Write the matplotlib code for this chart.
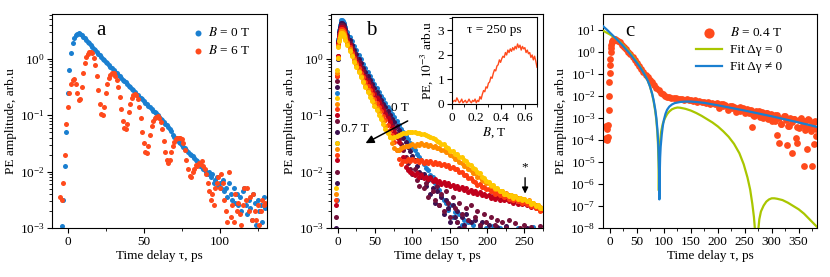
import numpy as np
import matplotlib
matplotlib.use('Agg')
import matplotlib.pyplot as plt
from matplotlib.ticker import MultipleLocator, LogLocator

plt.rcParams['font.family'] = ['Liberation Serif', 'DejaVu Serif']
plt.rcParams['mathtext.fontset'] = 'stix'
plt.rcParams['font.size'] = 9.5
plt.rcParams['axes.linewidth'] = 0.8

# ---------------- Panel a data (log10 of PE amplitude) ----------------
t_a = list(range(-5, 131))
a_B0_log = [
    -3.20, -2.96, -2.50, -1.90, -1.30, -0.60, -0.20, 0.10, 0.27, 0.37,
    0.42, 0.44, 0.45, 0.44, 0.42, 0.39, 0.36, 0.33, 0.30, 0.27,
    0.24, 0.21, 0.18, 0.15, 0.12, 0.09, 0.06, 0.03, 0.00, -0.03,
    -0.05, -0.08, -0.11, -0.14, -0.17, -0.20, -0.23, -0.26, -0.29, -0.31,
    -0.34, -0.37, -0.40, -0.42, -0.45, -0.48, -0.50, -0.53, -0.56, -0.59,
    -0.62, -0.64, -0.67, -0.70, -0.72, -0.75, -0.78, -0.81, -0.83, -0.86,
    -0.89, -0.92, -0.95, -0.97, -1.00, -1.03, -1.06, -1.09, -1.12, -1.15,
    -1.18, -1.21, -1.25, -1.28, -1.35, -1.38, -1.41, -1.44, -1.47, -1.50,
    -1.53, -1.56, -1.59, -1.62, -1.65, -1.68, -1.71, -1.73, -1.76, -1.79,
    -1.82, -1.85, -1.90, -1.92, -1.95, -1.98, -2.00, -2.05, -2.00, -2.10,
    -2.05, -2.20, -2.15, -2.10, -2.25, -2.20, -2.30, -2.15, -2.35, -2.30,
    -2.45, -2.20, -2.40, -2.50, -2.30, -2.55, -2.40, -2.60, -2.45, -2.70,
    -2.35, -2.30, -2.60, -2.75, -2.50, -2.65, -2.85, -2.40, -2.55, -2.95,
    -2.50, -2.70, -2.60, -2.90, -2.45, -2.65]
a_B6_log = [
    -2.45, -2.50, -2.20, -1.70, -1.15, -0.85, -0.60, -0.45, -0.37, -0.36,
    -0.45, -0.60, -0.74, -0.72, -0.50, -0.25, -0.08, 0.03, 0.09, 0.12,
    0.12, 0.10, 0.02, -0.12, -0.30, -0.55, -0.80, -0.98, -1.00, -0.85,
    -0.60, -0.45, -0.35, -0.29, -0.26, -0.26, -0.30, -0.38, -0.50, -0.68,
    -0.90, -1.10, -1.22, -1.25, -1.15, -0.95, -0.80, -0.70, -0.65, -0.63,
    -0.65, -0.72, -0.85, -1.05, -1.30, -1.50, -1.65, -1.67, -1.55, -1.35,
    -1.20, -1.10, -1.05, -1.03, -1.02, -1.05, -1.12, -1.25, -1.45, -1.65,
    -1.80, -1.85, -1.80, -1.65, -1.55, -1.47, -1.42, -1.40, -1.40, -1.40,
    -1.42, -1.50, -1.62, -1.80, -1.95, -2.08, -2.10, -2.00, -1.95, -1.88,
    -1.90, -1.85, -1.87, -1.82, -1.90, -1.95, -2.05, -2.20, -2.35, -2.50,
    -2.40, -2.60, -2.30, -2.20, -2.10, -2.30, -2.05, -2.20, -2.50, -2.70,
    -2.90, -2.00, -2.80, -2.60, -2.90, -2.40, -2.70, -2.55, -2.75, -2.95,
    -2.60, -2.30, -2.50, -2.30, -2.70, -2.45, -2.85, -2.40, -2.70, -2.85,
    -2.60, -2.95, -2.70, -2.50, -2.60, -2.55]
a_labels = ['$B$ = 0 T', '$B$ = 6 T']

# ---------------- Panel b data ----------------
t_b = [-2, -1.5, -1, -0.5, 0, 1, 2, 3, 4, 5, 6, 7, 8] + list(range(10, 275, 3))
b_fields = ['0 T', '0.1 T', '0.2 T', '0.3 T', '0.4 T', '0.5 T', '0.7 T']
b_colors = ['#1a7fd0', '#3d1150', '#74113a', '#c0001c', '#ff3d10', '#ff8c00', '#ffc800']
b_B00_log = [
    -3.2, -2.5, -1.5, -0.6, 0.0, 0.35, 0.5, 0.6, 0.65, 0.68, 0.68, 0.66, 0.63,
    0.57, 0.48, 0.39, 0.31, 0.23, 0.15, 0.07, -0.01, -0.09, -0.16,
    -0.24, -0.31, -0.38, -0.45, -0.52, -0.59, -0.66, -0.72, -0.78, -0.85,
    -0.91, -0.98, -1.04, -1.10, -1.17, -1.24, -1.30, -1.37, -1.43, -1.50,
    -1.56, -1.62, -1.68, -1.74, -1.80, -1.86, -1.93, -1.98, -2.06, -2.10,
    -2.20, -2.27, -2.33, -2.42, -2.50, -2.55, -2.68, -2.60, -2.80, -2.72,
    -2.90, -2.75, -2.95, -2.85, -3.10, -2.90, -3.20, -2.95, -3.10, -3.30,
    -2.95, -3.20, -3.40, -3.00, -3.30, -3.10, -2.97, -3.40, -3.20, -3.00,
    -3.50, -3.20, -2.98, -3.30, -3.50, -3.10, -3.40, -3.00, -3.60, -3.20,
    -3.40, -3.10, -3.50, -3.30, -2.99, -3.40, -3.20, -3.60, -3.30]
b_B01_log = [
    -3.0, -2.2, -1.3, -0.5, 0.0, 0.32, 0.47, 0.56, 0.61, 0.64, 0.64, 0.62, 0.59,
    0.52, 0.42, 0.33, 0.24, 0.16, 0.08, 0.00, -0.08, -0.16, -0.23,
    -0.31, -0.38, -0.45, -0.52, -0.59, -0.66, -0.73, -0.80, -0.86, -0.93,
    -0.99, -1.06, -1.13, -1.20, -1.27, -1.34, -1.41, -1.48, -1.56, -1.63,
    -1.72, -1.80, -1.90, -2.00, -2.10, -2.05, -2.25, -2.15, -2.40, -2.30,
    -2.55, -2.35, -2.60, -2.45, -2.75, -2.50, -2.65, -2.90, -2.60, -2.80,
    -2.70, -3.00, -2.80, -2.95, -2.75, -3.10, -2.90, -3.05, -2.85, -3.20,
    -3.00, -2.90, -3.30, -3.10, -2.95, -3.40, -3.05, -3.20, -2.98, -3.50,
    -3.10, -3.30, -2.97, -3.40, -3.20, -3.60, -3.05, -3.30, -3.50, -3.15,
    -3.40, -3.00, -3.60, -3.20, -3.35, -3.05, -3.50, -3.25, -3.40]
b_B02_log = [
    -2.8, -2.0, -1.1, -0.4, 0.05, 0.3, 0.44, 0.53, 0.58, 0.60, 0.60, 0.58, 0.55,
    0.48, 0.38, 0.28, 0.19, 0.10, 0.02, -0.06, -0.14, -0.22, -0.30,
    -0.38, -0.45, -0.52, -0.60, -0.67, -0.74, -0.81, -0.88, -0.95, -1.02,
    -1.09, -1.17, -1.25, -1.33, -1.42, -1.52, -1.62, -1.75, -1.85, -1.95,
    -2.05, -1.95, -2.15, -2.25, -2.05, -2.30, -2.20, -2.45, -2.10, -2.35,
    -2.50, -2.25, -2.60, -2.40, -2.70, -2.35, -2.55, -2.80, -2.45, -2.65,
    -2.90, -2.55, -2.75, -3.00, -2.65, -2.85, -2.60, -3.10, -2.80, -2.70,
    -2.95, -3.20, -2.75, -2.90, -3.05, -2.80, -3.30, -2.95, -2.85, -3.10,
    -2.90, -3.40, -3.00, -2.85, -3.20, -3.05, -2.92, -3.50, -3.00, -3.15,
    -2.95, -3.30, -3.10, -2.98, -3.40, -3.05, -3.20, -2.96, -3.30]
b_B03_log = [
    -2.6, -1.8, -1.0, -0.3, 0.05, 0.27, 0.4, 0.49, 0.54, 0.56, 0.56, 0.54, 0.51,
    0.44, 0.34, 0.24, 0.14, 0.05, -0.04, -0.12, -0.20, -0.28, -0.36,
    -0.42, -0.49, -0.56, -0.63, -0.70, -0.77, -0.84, -0.91, -0.98, -1.05,
    -1.13, -1.21, -1.29, -1.38, -1.48, -1.60, -1.75, -1.92, -1.98, -2.00,
    -2.02, -2.06, -2.03, -2.09, -2.06, -2.12, -2.09, -2.14, -2.11, -2.17,
    -2.14, -2.19, -2.16, -2.22, -2.18, -2.24, -2.21, -2.26, -2.23, -2.29,
    -2.25, -2.31, -2.28, -2.33, -2.30, -2.36, -2.33, -2.38, -2.35, -2.40,
    -2.37, -2.42, -2.39, -2.44, -2.41, -2.46, -2.43, -2.48, -2.45, -2.50,
    -2.46, -2.51, -2.48, -2.53, -2.49, -2.55, -2.51, -2.57, -2.53, -2.58,
    -2.55, -2.60, -2.57, -2.62, -2.59, -2.65, -2.61, -2.68, -2.64]
b_B04_log = [
    -2.5, -1.7, -0.9, -0.3, 0.03, 0.24, 0.37, 0.45, 0.50, 0.52, 0.52, 0.50, 0.47,
    0.40, 0.30, 0.20, 0.10, 0.01, -0.08, -0.17, -0.25, -0.33, -0.42,
    -0.48, -0.56, -0.63, -0.71, -0.78, -0.86, -0.93, -1.01, -1.09, -1.17,
    -1.26, -1.36, -1.48, -1.62, -1.78, -1.86, -1.82, -1.81, -1.78, -1.81,
    -1.78, -1.82, -1.79, -1.83, -1.80, -1.84, -1.81, -1.85, -1.82, -1.86,
    -1.83, -1.87, -1.84, -1.89, -1.86, -1.90, -1.89, -1.93, -1.92, -1.96,
    -1.95, -2.00, -2.00, -2.06, -2.06, -2.12, -2.12, -2.17, -2.18, -2.23,
    -2.22, -2.27, -2.27, -2.31, -2.31, -2.35, -2.35, -2.39, -2.38, -2.42,
    -2.41, -2.45, -2.44, -2.48, -2.47, -2.51, -2.49, -2.53, -2.52, -2.56,
    -2.54, -2.58, -2.57, -2.61, -2.60, -2.65, -2.64, -2.69, -2.68]
b_B05_log = [
    -2.4, -1.6, -0.8, -0.25, 0.02, 0.22, 0.34, 0.42, 0.47, 0.49, 0.49, 0.47, 0.44,
    0.37, 0.27, 0.17, 0.07, -0.03, -0.12, -0.21, -0.30, -0.39, -0.48,
    -0.55, -0.63, -0.71, -0.79, -0.87, -0.95, -1.03, -1.11, -1.20, -1.29,
    -1.39, -1.50, -1.58, -1.62, -1.61, -1.59, -1.57, -1.55, -1.54, -1.53,
    -1.52, -1.54, -1.51, -1.53, -1.50, -1.53, -1.51, -1.54, -1.53, -1.56,
    -1.55, -1.59, -1.58, -1.62, -1.62, -1.66, -1.66, -1.71, -1.72, -1.77,
    -1.78, -1.83, -1.84, -1.90, -1.91, -1.96, -1.97, -2.02, -2.03, -2.09,
    -2.10, -2.15, -2.16, -2.21, -2.21, -2.26, -2.26, -2.31, -2.31, -2.35,
    -2.35, -2.39, -2.38, -2.42, -2.41, -2.44, -2.43, -2.47, -2.46, -2.49,
    -2.48, -2.52, -2.51, -2.55, -2.55, -2.59, -2.59, -2.63, -2.64]
b_B07_log = [
    -2.3, -1.5, -0.7, -0.2, 0.02, 0.2, 0.31, 0.39, 0.44, 0.46, 0.46, 0.44, 0.41,
    0.34, 0.24, 0.14, 0.04, -0.06, -0.15, -0.24, -0.33, -0.42, -0.51,
    -0.59, -0.67, -0.75, -0.83, -0.91, -0.99, -1.07, -1.15, -1.24, -1.32,
    -1.38, -1.40, -1.39, -1.37, -1.35, -1.33, -1.32, -1.31, -1.30, -1.30,
    -1.30, -1.30, -1.31, -1.32, -1.33, -1.34, -1.36, -1.37, -1.39, -1.41,
    -1.42, -1.46, -1.47, -1.52, -1.52, -1.57, -1.58, -1.63, -1.64, -1.69,
    -1.69, -1.74, -1.75, -1.80, -1.81, -1.86, -1.88, -1.93, -1.95, -2.01,
    -2.03, -2.09, -2.11, -2.17, -2.18, -2.23, -2.24, -2.29, -2.30, -2.35,
    -2.35, -2.39, -2.39, -2.43, -2.42, -2.46, -2.44, -2.48, -2.46, -2.50,
    -2.48, -2.53, -2.52, -2.57, -2.56, -2.61, -2.60, -2.65, -2.64]
b_series = [b_B00_log, b_B01_log, b_B02_log, b_B03_log, b_B04_log, b_B05_log, b_B07_log]

# inset: PE at tau = 250 ps vs B (units 1e-3)
inset_B = [round(0.01 * i, 2) for i in range(71)]
inset_PE = [
    0.05, 0.10, 0.15, 0.10, 0.25, 0.15, 0.05, 0.10, 0.20, 0.05,
    0.10, 0.15, 0.05, 0.10, 0.20, 0.10, 0.05, 0.15, 0.10, 0.20,
    0.05, 0.15, 0.10, 0.30, 0.20, 0.40, 0.55, 0.50, 0.70, 0.65,
    0.85, 0.90, 1.10, 1.05, 1.25, 1.40, 1.35, 1.55, 1.60, 1.80,
    1.70, 1.85, 1.95, 1.90, 2.10, 2.00, 2.20, 2.10, 2.25, 2.15,
    2.30, 2.20, 2.35, 2.25, 2.45, 2.30, 2.40, 2.20, 2.35, 2.25,
    2.30, 2.10, 2.20, 2.05, 2.10, 1.90, 2.00, 1.80, 1.95, 1.75,
    1.50]

# ---------------- Panel c data ----------------
t_c = [-9, -8, -7, -6, -5, -4, -3, -2, -1.5, -1, -0.5, 0, 0.5, 1, 1.5, 2, 3, 4, 5, 6,
       7, 8, 9, 10, 11, 12] + list(range(14, 383, 4))
c_data_log = [
    -3.95, -3.35, -3.90, -4.00, -3.50, -3.85, -3.30, -2.65, -2.00, -1.35,
    -0.95, -0.60, -0.30, 0.00, 0.20, 0.32, 0.45, 0.50, 0.53, 0.56,
    0.57, 0.58, 0.58, 0.57, 0.56, 0.55,
    0.52, 0.44, 0.34, 0.24, 0.13, 0.02, -0.10, -0.22, -0.35, -0.48,
    -0.62, -0.76, -0.90, -1.03, -1.15, -1.27, -1.38, -1.50, -1.62, -1.74,
    -1.84, -1.92, -1.98, -2.02, -2.05, -2.07, -2.09, -2.10, -2.12, -2.13,
    -2.14, -2.16, -2.15, -2.19, -2.18, -2.22, -2.19, -2.25, -2.22, -2.28,
    -2.25, -2.31, -2.27, -2.35, -2.30, -2.38, -2.33, -2.42, -2.36, -2.46,
    -2.40, -2.50, -2.45, -2.55, -2.48, -2.60, -2.52, -2.66, -2.56, -2.70,
    -2.60, -2.78, -2.62, -2.85, -2.68, -2.80, -2.95, -2.72, -2.90, -2.78,
    -3.05, -2.82, -2.95, -3.15, -2.88, -3.00, -3.25, -2.92, -3.10, -3.35,
    -2.98, -3.20, -3.05, -3.40, -3.10, -3.00, -3.30, -3.15, -3.45, -3.08,
    -3.30, -3.20, -3.50]
t_c_extra = [202, 210, 218, 226, 234, 242, 250, 258, 263, 268,
             276, 284, 292, 300, 306, 310, 313, 318, 324, 328,
             332, 338, 342, 345, 347, 350, 356, 359, 362, 365,
             368, 372, 375, 378, 380, 383]
c_extra_log = [-2.52, -2.38, -2.62, -2.44, -2.72, -2.50, -2.78, -2.62, -3.40, -2.92,
               -2.66, -3.02, -2.76, -3.12, -2.84, -3.77, -4.15, -3.25, -2.92, -4.23,
               -3.35, -4.60, -3.05, -3.90, -4.15, -3.45, -3.12, -5.20, -3.55, -4.40,
               -3.05, -3.60, -5.20, -4.20, -3.15, -3.80]
t_fit_b = [-13, -5, 0, 5, 10, 15, 20, 25, 30, 35, 40, 45, 50, 55, 60, 65, 70, 74, 78, 81,
           84, 86, 88, 89, 90, 91, 91.6, 92.2, 93, 94, 96, 98, 100, 103, 106, 110, 115, 120, 130, 140,
           150, 160, 175, 200, 225, 250, 275, 300, 325, 350, 384]
fit_b_log = [1.18, 1.00, 0.88, 0.76, 0.64, 0.52, 0.39, 0.26, 0.12, -0.02,
             -0.17, -0.33, -0.49, -0.66, -0.85, -1.06, -1.30, -1.55, -1.88, -2.20,
             -2.62, -3.00, -3.55, -3.95, -4.50, -5.40, -6.70, -5.60, -4.80, -4.30,
             -3.75, -3.35, -3.08, -2.80, -2.62, -2.48, -2.38, -2.32, -2.27, -2.25,
             -2.25, -2.27, -2.31, -2.42, -2.54, -2.66, -2.79, -2.92, -3.06, -3.20,
             -3.40]
t_fit_g = [-13, -5, 0, 5, 10, 15, 20, 25, 30, 35, 40, 45, 50, 55, 60, 65, 70, 74, 78, 81,
           84, 86, 88, 89, 90, 90.6, 91.2, 92, 93, 95, 98, 102, 106, 110, 115, 120, 125, 130, 140, 150,
           160, 170, 180, 190, 200, 210, 220, 230, 240, 248, 255, 260, 264, 267, 269, 271, 273, 275, 277, 280,
           285, 290, 295, 300, 305, 310, 320, 330, 340, 350, 360, 370, 384]
fit_g_log = [0.97, 0.87, 0.80, 0.72, 0.63, 0.53, 0.42, 0.30, 0.17, 0.03,
             -0.12, -0.28, -0.45, -0.63, -0.83, -1.05, -1.30, -1.55, -1.90, -2.25,
             -2.70, -3.10, -3.70, -4.20, -5.00, -6.30, -5.20, -4.50, -4.05, -3.60,
             -3.25, -3.00, -2.82, -2.70, -2.60, -2.55, -2.52, -2.53, -2.58, -2.66,
             -2.77, -2.90, -3.05, -3.20, -3.38, -3.60, -3.85, -4.17, -4.60, -5.10,
             -5.70, -6.25, -6.90, -7.50, -8.10, -9.00, -9.00, -8.10, -7.60, -7.25,
             -6.98, -6.80, -6.70, -6.65, -6.65, -6.67, -6.73, -6.85, -7.00, -7.15,
             -7.35, -7.60, -7.95]
c_labels = ['$B$ = 0.4 T', 'Fit Δγ = 0', 'Fit Δγ ≠ 0']

BLUE = '#1a7fd0'
ORANGE = '#ff4a1c'
GREEN = '#a9c600'

def p10(v):
    return np.power(10.0, np.asarray(v, dtype=float))

W, H = 830, 277
fig = plt.figure(figsize=(W / 100, H / 100), dpi=100)

def add_ax(l, r, t, b):
    return fig.add_axes([l / W, (H - b) / H, (r - l) / W, (b - t) / H])

def style(ax):
    ax.tick_params(which='major', direction='out', length=3.5, width=0.8, labelsize=9.5, pad=2)
    ax.tick_params(which='minor', direction='out', length=2, width=0.6)

XLABEL = 'Time delay τ, ps'
YLABEL = 'PE amplitude, arb.u'

# ---------- Panel a ----------
axa = add_ax(52, 267, 14, 228)
axa.scatter(t_a, p10(a_B0_log), s=13, color=BLUE, lw=0, label=a_labels[0])
axa.scatter(t_a, p10(a_B6_log), s=13, color=ORANGE, lw=0, label=a_labels[1])
axa.set_yscale('log')
axa.set_xlim(-10.5, 131)
axa.set_ylim(1e-3, 6.2)
axa.xaxis.set_major_locator(MultipleLocator(50))
axa.xaxis.set_minor_locator(MultipleLocator(25))
axa.set_xlabel(XLABEL, labelpad=2)
axa.set_ylabel(YLABEL, labelpad=2)
axa.text(22, 10**0.5, 'a', fontsize=15, ha='center', va='center')
axa.legend(loc='upper left', bbox_to_anchor=(0.62, 0.985), frameon=False, handlelength=0.6,
           handletextpad=0.4, borderpad=0.2, labelspacing=0.35, scatterpoints=1, markerscale=1.2,
           fontsize=9.5)
style(axa)

# ---------- Panel b ----------
axb = add_ax(331, 543, 14, 228)
for vals, col in zip(b_series, b_colors):
    axb.scatter(t_b, p10(vals), s=13, color=col, lw=0)
axb.set_yscale('log')
axb.set_xlim(-9, 275)
axb.set_ylim(1e-3, 6.2)
axb.xaxis.set_major_locator(MultipleLocator(50))
axb.xaxis.set_minor_locator(MultipleLocator(25))
axb.set_xlabel(XLABEL, labelpad=2)
axb.set_ylabel(YLABEL, labelpad=2)
axb.text(45, 10**0.5, 'b', fontsize=15, ha='center', va='center')
axb.annotate('', xy=(34, 10**-1.52), xytext=(97, 10**-1.08),
             arrowprops=dict(arrowstyle='-|>', color='k', lw=1.1, mutation_scale=12))
axb.text(83, 10**-0.88, b_fields[0], ha='center', va='center', fontsize=9.5)
axb.text(23, 10**-1.25, b_fields[-1], ha='center', va='center', fontsize=9.5)
axb.text(251, 10**-1.93, '*', ha='center', va='center', fontsize=9.5)
axb.annotate('', xy=(251, 10**-2.44), xytext=(251, 10**-2.06),
             arrowprops=dict(arrowstyle='-|>', color='k', lw=1.0, mutation_scale=9))
style(axb)

axi = add_ax(452, 537, 17, 104)
axi.plot(inset_B, inset_PE, color=ORANGE, lw=1.0)
axi.set_xlim(0, 0.7)
axi.set_ylim(0, 3.55)
axi.xaxis.set_minor_locator(MultipleLocator(0.1))
axi.yaxis.set_major_locator(MultipleLocator(1))
axi.yaxis.set_minor_locator(MultipleLocator(0.5))
axi.set_xticks([0, 0.2, 0.4, 0.6])
axi.set_xticklabels(['0', '0.2', '0.4', '0.6'])
axi.set_xlabel('$B$, T', labelpad=1)
axi.set_ylabel(r'PE, $10^{-3}$ arb.u', labelpad=2)
axi.text(0.35, 3.0, 'τ = 250 ps', ha='center', va='center', fontsize=9.5)
style(axi)

# ---------- Panel c ----------
axc = add_ax(603, 817, 14, 228)
axc.scatter(t_c, p10(c_data_log), s=24, color=ORANGE, lw=0, label=c_labels[0], zorder=2)
axc.scatter(t_c_extra, p10(c_extra_log), s=24, color=ORANGE, lw=0, zorder=2)
axc.plot(t_fit_g, p10(fit_g_log), color=GREEN, lw=1.6, label=c_labels[1], zorder=3)
axc.plot(t_fit_b, p10(fit_b_log), color=BLUE, lw=1.6, label=c_labels[2], zorder=4)
axc.set_yscale('log')
axc.set_xlim(-13, 384)
axc.set_ylim(1e-8, 54)
axc.yaxis.set_major_locator(LogLocator(base=10, numticks=20))
axc.yaxis.set_minor_locator(LogLocator(base=10, subs=[], numticks=20))
axc.xaxis.set_major_locator(MultipleLocator(50))
axc.xaxis.set_minor_locator(MultipleLocator(25))
axc.set_xlabel(XLABEL, labelpad=2)
axc.set_ylabel(YLABEL, labelpad=2)
axc.text(37, 10**0.92, 'c', fontsize=15, ha='center', va='center')
axc.legend(loc='upper left', bbox_to_anchor=(0.39, 0.985), frameon=False, handlelength=2.0,
           handletextpad=0.6, borderpad=0.2, labelspacing=0.35, scatterpoints=1, markerscale=1.5,
           fontsize=9.5)
style(axc)

fig.savefig('out.png', dpi=100)
